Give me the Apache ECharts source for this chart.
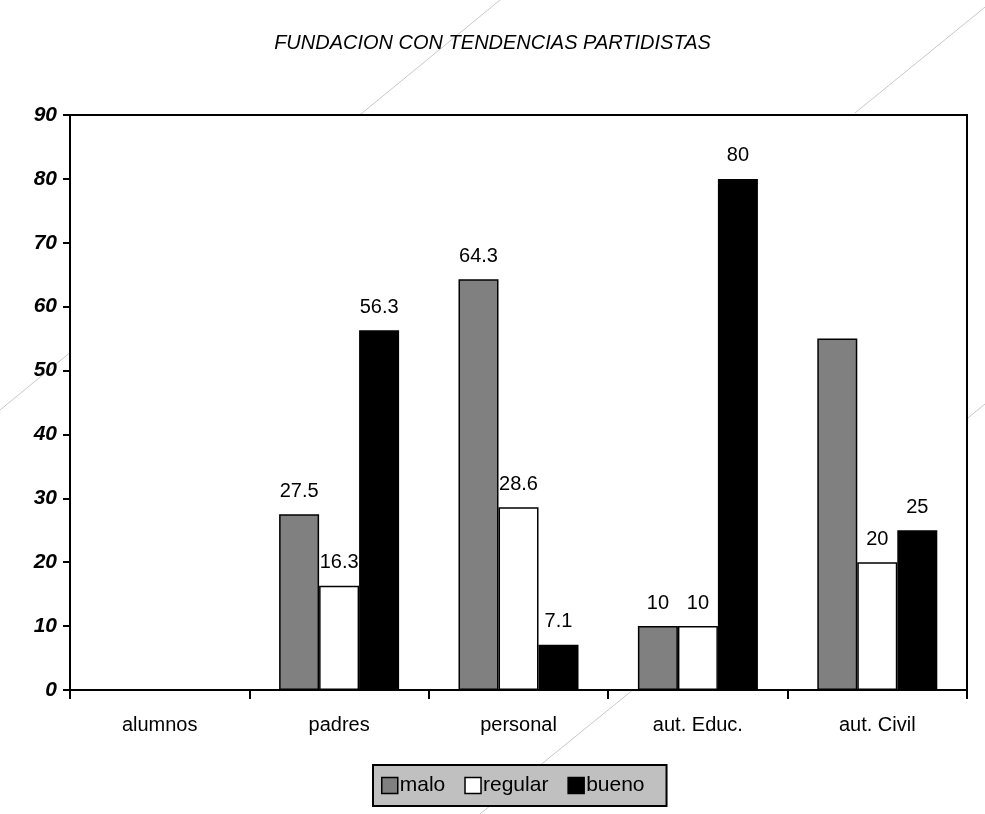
<!DOCTYPE html>
<html>
<head>
<meta charset="utf-8">
<script src="https://cdn.jsdelivr.net/npm/echarts@6/dist/echarts.min.js"></script>
<style>
html,body{margin:0;padding:0;background:#fff;}
#c{width:985px;height:814px;}
</style>
</head>
<body>
<div id="c"></div>
<script>
var titleText = 'FUNDACION CON TENDENCIAS PARTIDISTAS';
var categories = ['alumnos', 'padres', 'personal', 'aut. Educ.', 'aut. Civil'];
var seriesNames = ['malo', 'regular', 'bueno'];
var malo = [null, 27.5, 64.3, 10, 55];
var regular = [null, 16.3, 28.6, 10, 20];
var bueno = [null, 56.3, 7.1, 80, 25];
var hiddenLabels = { malo: [4], regular: [], bueno: [] };
var colors = ['#808080', '#ffffff', '#000000'];
var yMin = 0, yMax = 90, yStep = 10;

var FONT = '"Liberation Sans", Arial, sans-serif';
var chart = echarts.init(document.getElementById('c'), null, { renderer: 'canvas' });

function buildData(name, arr) {
  return arr.map(function (v, i) {
    if (hiddenLabels[name].indexOf(i) >= 0) {
      return { value: v, label: { show: false } };
    }
    return v;
  });
}

var allData = { malo: malo, regular: regular, bueno: bueno };

var series = seriesNames.map(function (n, k) {
  return {
    name: n,
    type: 'bar',
    data: buildData(n, allData[n]),
    barWidth: 40,
    barGap: '0%',
    itemStyle: { color: colors[k], borderColor: '#000', borderWidth: 1.5 },
    label: {
      show: true,
      position: 'top',
      distance: 13,
      color: '#000',
      fontFamily: FONT,
      fontSize: 20
    },
    emphasis: { disabled: true },
    animation: false
  };
});

// decorative faint diagonal background lines
var deco = [
  [[0, 410], [500, 0]],
  [[855, 113], [990, 3]],
  [[480, 814], [990, 400]]
];

chart.setOption({
  backgroundColor: '#ffffff',
  animation: false,
  title: {
    text: titleText,
    left: 'center',
    top: 28,
    textStyle: {
      fontFamily: FONT,
      fontStyle: 'italic',
      fontWeight: 'normal',
      fontSize: 20,
      color: '#000'
    }
  },
  graphic: deco.map(function (d) {
    return {
      type: 'line',
      z: -10,
      silent: true,
      shape: { x1: d[0][0], y1: d[0][1], x2: d[1][0], y2: d[1][1] },
      style: { stroke: '#c8c8c8', lineWidth: 1 }
    };
  }),
  legend: {
    data: seriesNames,
    left: 373,
    top: 765,
    orient: 'horizontal',
    backgroundColor: '#c0c0c0',
    borderColor: '#000',
    borderWidth: 2,
    borderRadius: 0,
    padding: [10, 22, 10, 8],
    itemGap: 19,
    itemWidth: 16,
    itemHeight: 16,
    icon: 'rect',
    selectedMode: false,
    textStyle: { fontFamily: FONT, fontSize: 21, color: '#000', padding: [0, 0, 0, -3] },
    itemStyle: { borderColor: '#000', borderWidth: 1.5 }
  },
  grid: {
    left: 70,
    right: 18,
    top: 115,
    bottom: 124,
    show: true,
    backgroundColor: '#ffffff',
    borderColor: '#000',
    borderWidth: 2,
    containLabel: false
  },
  xAxis: {
    type: 'category',
    data: categories,
    axisLine: { show: true, lineStyle: { color: '#000', width: 2 } },
    axisTick: { show: true, alignWithLabel: false, length: 9, lineStyle: { color: '#000', width: 2 } },
    axisLabel: { fontFamily: FONT, fontSize: 20, color: '#000', margin: 25 },
    splitLine: { show: false }
  },
  yAxis: {
    type: 'value',
    min: yMin,
    max: yMax,
    interval: yStep,
    axisLine: { show: true, lineStyle: { color: '#000', width: 2 } },
    axisTick: { show: true, length: 7, lineStyle: { color: '#000', width: 2 } },
    axisLabel: {
      fontFamily: FONT,
      fontSize: 21,
      fontWeight: 'bold',
      fontStyle: 'italic',
      color: '#000',
      margin: 13
    },
    splitLine: { show: false }
  },
  series: series
});
</script>
</body>
</html>
